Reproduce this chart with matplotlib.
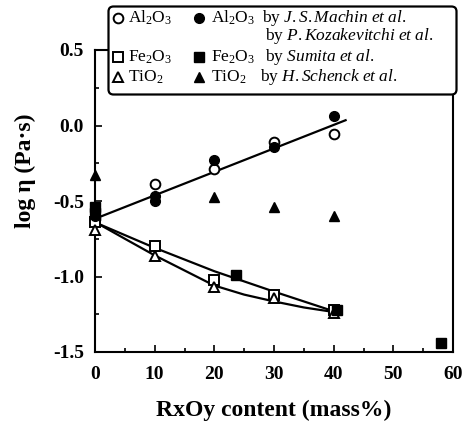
import matplotlib
matplotlib.use('Agg')
import matplotlib.pyplot as plt
from matplotlib.patches import FancyBboxPatch
from matplotlib.ticker import MultipleLocator, FormatStrFormatter

plt.rcParams['font.family'] = ['Liberation Serif', 'DejaVu Serif']
plt.rcParams['mathtext.fontset'] = 'custom'
plt.rcParams['mathtext.rm'] = 'Liberation Serif'
plt.rcParams['mathtext.it'] = 'Liberation Serif:italic'
plt.rcParams['mathtext.bf'] = 'Liberation Serif:bold'

# measured data (this work)
al_x = [0, 10, 20, 30, 40]
al_y = [-0.62, -0.39, -0.29, -0.11, -0.055]
fe_x = [0, 10, 20, 30, 40]
fe_y = [-0.64, -0.80, -1.02, -1.12, -1.22]
ti_x = [0, 10, 20, 30, 40]
ti_y = [-0.69, -0.865, -1.07, -1.145, -1.245]

# literature data
al_lit_x = [0, 10, 10, 20, 30, 40]
al_lit_y = [-0.60, -0.47, -0.50, -0.23, -0.14, 0.06]
fe_lit_x = [0, 0, 23.6, 40.6, 58]
fe_lit_y = [-0.54, -0.58, -0.99, -1.22, -1.44]
ti_lit_x = [0, 20, 30, 40]
ti_lit_y = [-0.33, -0.475, -0.54, -0.60]

# fitted curves
al_fit_x = [0.5, 42]
al_fit_y = [-0.61, 0.035]
fe_fit_x = [0.5, 10, 20, 30, 40]
fe_fit_y = [-0.65, -0.81, -0.965, -1.10, -1.23]
ti_fit_x = [0.5, 5, 10, 15, 20, 25, 30, 35, 40]
ti_fit_y = [-0.65, -0.75, -0.86, -0.96, -1.06, -1.12, -1.165, -1.205, -1.235]

W, H = 465, 428
fig = plt.figure(figsize=(W / 100, H / 100), dpi=100)
ax = fig.add_axes([95 / W, 1 - 352 / H, (453 - 95) / W, (352 - 50) / H])

lw = 1.6
for x, y in [(al_fit_x, al_fit_y), (fe_fit_x, fe_fit_y), (ti_fit_x, ti_fit_y)]:
    ax.plot(x, y, color='black', lw=lw, zorder=2)

ms = 7
open_kw = dict(ls='none', mfc='white', mec='black', mew=1.4, ms=ms, clip_on=False, zorder=3)
fill_kw = dict(ls='none', mfc='black', mec='black', ms=ms, clip_on=False, zorder=4)
ax.plot(al_lit_x, al_lit_y, marker='o', **fill_kw)
ax.plot(fe_lit_x, fe_lit_y, marker='s', **fill_kw)
ax.plot(ti_lit_x, ti_lit_y, marker='^', **fill_kw)
ax.plot(al_x, al_y, marker='o', **open_kw)
ax.plot(fe_x, fe_y, marker='s', **open_kw)
ax.plot(ti_x, ti_y, marker='^', **open_kw)

ax.set_xlim(0, 60)
ax.set_ylim(-1.5, 0.5)
ax.xaxis.set_major_locator(MultipleLocator(10))
ax.xaxis.set_minor_locator(MultipleLocator(5))
ax.yaxis.set_major_locator(MultipleLocator(0.5))
ax.yaxis.set_minor_locator(MultipleLocator(0.25))
ax.yaxis.set_major_formatter(FormatStrFormatter('%.1f'))
ax.tick_params(which='both', direction='in', top=False, right=False, width=1.2)
ax.tick_params(which='major', length=5, labelsize=14)
ax.tick_params(axis='x', which='major', pad=10)
ax.tick_params(axis='y', which='major', pad=8)
ax.tick_params(which='minor', length=3)
for lab in ax.get_xticklabels() + ax.get_yticklabels():
    lab.set_fontweight('bold')
for sp in ax.spines.values():
    sp.set_linewidth(1.5)

ax.set_xlabel('RxOy content (mass%)', fontsize=17, fontweight='bold', labelpad=12)
ax.set_ylabel('log \u03b7 (Pa\u00b7s)', fontsize=17, fontweight='bold')
ax.yaxis.set_label_coords(-0.165, 0.6)

# legend box
lx0, lx1, ly0, ly1 = 107, 458, 5, 96
lax = fig.add_axes([lx0 / W, 1 - ly1 / H, (lx1 - lx0) / W, (ly1 - ly0) / H])
lax.set_xlim(0, lx1 - lx0)
lax.set_ylim(ly1 - ly0, 0)
lax.axis('off')
box = FancyBboxPatch((1.5, 1.5), lx1 - lx0 - 3, ly1 - ly0 - 3,
                     boxstyle='round,pad=0,rounding_size=5',
                     fc='white', ec='black', lw=1.6, clip_on=False)
lax.add_patch(box)

fs = 12.5
rows = [13, 31, 52, 72]
names = ['Al$_2$O$_3$', None, 'Fe$_2$O$_3$', 'TiO$_2$']
marks = ['o', None, 's', '^']
authors = ['by $\\mathit{J.S.Machin\\ et\\ al.}$',
           'by $\\mathit{P.Kozakevitchi\\ et\\ al.}$',
           'by $\\mathit{Sumita\\ et\\ al.}$',
           'by $\\mathit{H.Schenck\\ et\\ al.}$']
author_x = [155, 158, 158, 153]
for y, name, m, auth, axx in zip(rows, names, marks, authors, author_x):
    if name is not None:
        lax.plot([11], [y], marker=m, **open_kw)
        lax.text(21, y, name, fontsize=fs, va='center')
        lax.plot([92], [y], marker=m, **fill_kw)
        lax.text(104, y, name, fontsize=fs, va='center')
    lax.text(axx, y, auth, fontsize=fs, va='center')

fig.savefig('out.png', dpi=100)
